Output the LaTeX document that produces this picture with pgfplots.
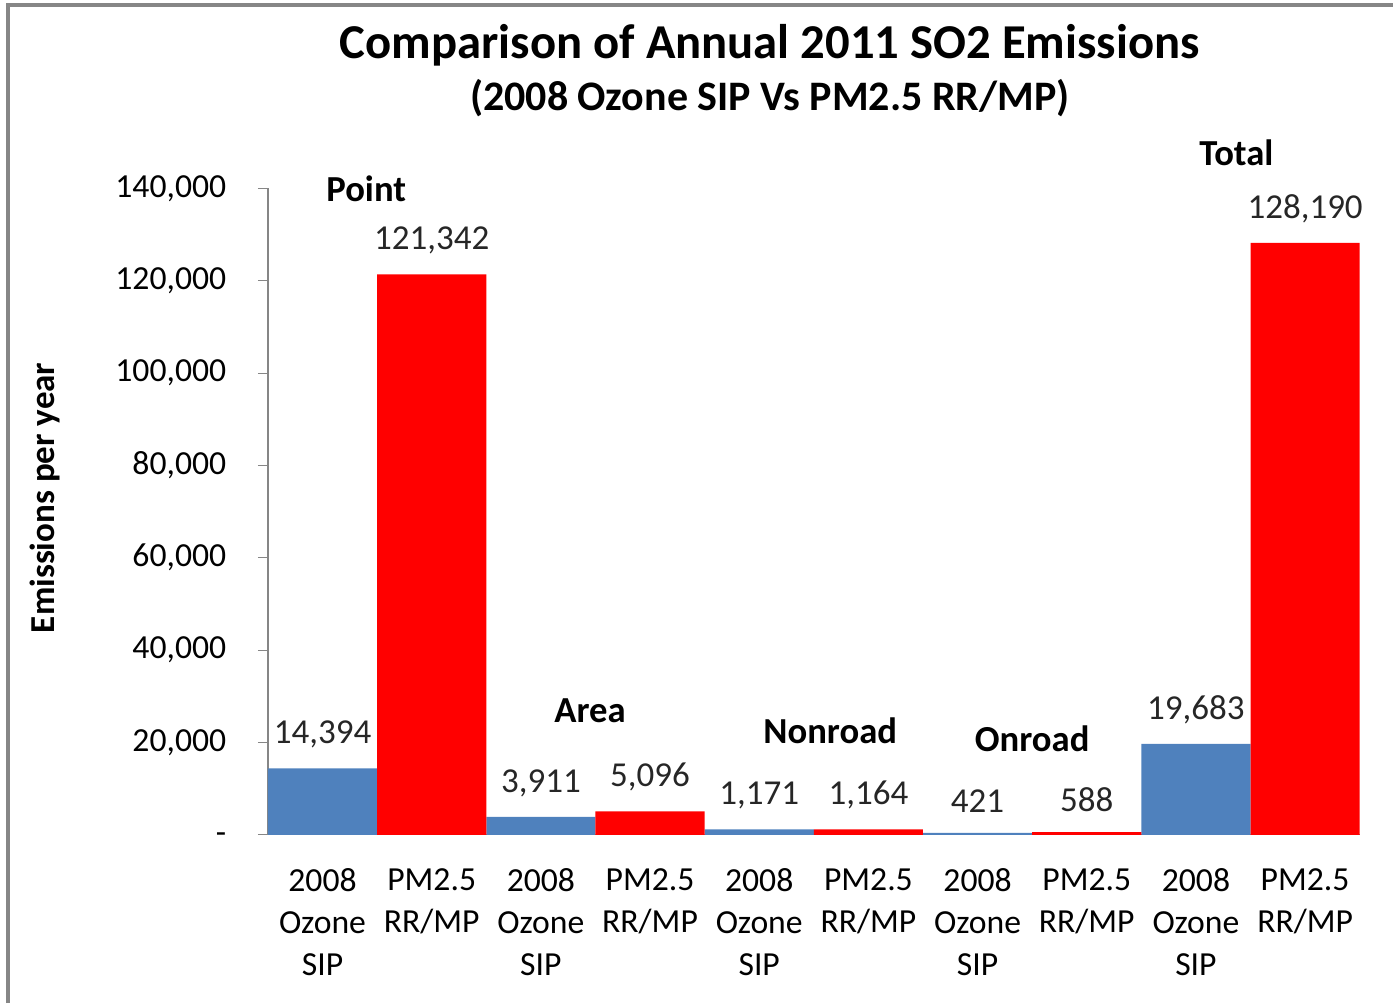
\documentclass[border=0pt]{standalone}
\usepackage{pgfplots}
\pgfplotsset{compat=1.18}
\usepackage{fontspec}
\setmainfont{Carlito}
\definecolor{sipBlue}{HTML}{4F81BD}
\definecolor{rrRed}{HTML}{FF0000}
\definecolor{axGray}{HTML}{868686}
\begin{document}
\begin{tikzpicture}
  \path[use as bounding box] (-80.4pt,-50.5pt) rectangle (337.6pt,250.5pt);
  \draw[axGray, line width=1pt] (-78pt,-50.5pt) -- (-78pt,249pt) -- (337.6pt,249pt);
  \begin{axis}[
      scale only axis, width=327.6pt, height=194pt,
      ybar, bar width=1, /pgf/bar shift=0pt,
      xmin=-0.5, xmax=9.5, ymin=0, ymax=140000,
      axis lines*=left, clip=false,
      axis line style={axGray},
      xtick={0,...,9},
      xticklabels={{2008\\Ozone\\SIP},{PM2.5\\RR/MP},{2008\\Ozone\\SIP},{PM2.5\\RR/MP},{2008\\Ozone\\SIP},{PM2.5\\RR/MP},{2008\\Ozone\\SIP},{PM2.5\\RR/MP},{2008\\Ozone\\SIP},{PM2.5\\RR/MP}},
      xticklabel style={align=center, font=\fontsize{10.1}{12.6}\selectfont, yshift=-3.5pt},
      major x tick style={draw=none},
      ytick={0,20000,...,140000}, scaled y ticks=false,
      yticklabels={{\raisebox{-5pt}{-}},{20,000},{40,000},{60,000},{80,000},{100,000},{120,000},{140,000}},
      yticklabel style={font=\fontsize{10.1}{12}\selectfont, xshift=-6pt},
      major y tick style={axGray},
      tick align=outside, major tick length=3pt,
      point meta=explicit symbolic,
      nodes near coords,
      nodes near coords style={font=\fontsize{10.5}{12}\selectfont, black!85, yshift=2.5pt},
    ]
    \addplot[fill=sipBlue, draw=none] coordinates {(0,14394) [14,394] (2,3911) [3,911] (4,1171) [1,171] (6,421) [421] (8,19683) [19,683]};
    \addplot[fill=rrRed, draw=none] coordinates {(1,121342) [121,342] (3,5096) [5,096] (5,1164) [1,164] (7,588) [588] (9,128190) [128,190]};
    \begin{scope}[font=\fontsize{11}{13}\selectfont\bfseries]
      \node at (axis cs:0.40,140000) {Point};
      \node at (axis cs:2.45,26800) {Area};
      \node at (axis cs:4.65,22500) {Nonroad};
      \node at (axis cs:6.50,20760) {Onroad};
      \node at (axis cs:8.37,147800) {Total};
    \end{scope}
  \end{axis}
  \node[font=\fontsize{10.5}{13}\selectfont\bfseries, rotate=90] at (-66.9pt,101.1pt) {Emissions per year};
  \node[font=\fontsize{14.6}{17}\selectfont\bfseries] at (150.6pt,237pt) {Comparison of Annual 2011 SO2 Emissions};
  \node[font=\fontsize{12.6}{15}\selectfont\bfseries] at (150.6pt,221.1pt) {(2008 Ozone SIP Vs PM2.5 RR/MP)};
\end{tikzpicture}
\end{document}
